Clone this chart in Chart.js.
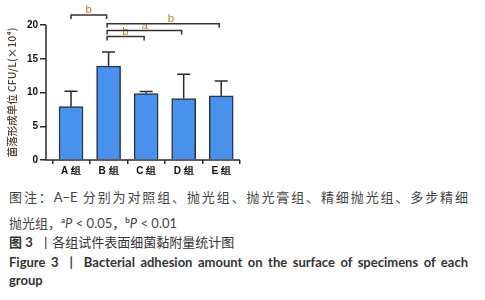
<!DOCTYPE html>
<html>
<head>
<meta charset="utf-8">
<script src="https://cdn.jsdelivr.net/npm/chart.js@4"></script>
<style>
  body { margin: 0; width: 485px; height: 300px; background: #fff; overflow: hidden; position: relative; }
  #wrap { position: absolute; left: 0; top: 0; width: 260px; height: 180px; }
  .cap { position: absolute; left: 9px; width: 459px; white-space: nowrap; font-family: 'Lato', 'Noto Sans CJK SC', sans-serif; font-size: 13px; line-height: 18px; color: #444; }
  .just { text-align: justify; text-align-last: justify; }
  .bold { font-weight: bold; color: #333; }
</style>
</head>
<body>
<div id="wrap"><canvas id="chart"></canvas></div>
<div class="cap just" style="top:188px">图注：A−E 分别为对照组、抛光组、抛光膏组、精细抛光组、多步精细</div>
<div class="cap" style="top:211px">抛光组，<sup style="font-size:8px;font-weight:bold">a</sup><i>P</i> &lt; 0.05，<sup style="font-size:8px;font-weight:bold">b</sup><i>P</i> &lt; 0.01</div>
<div class="cap" style="top:233px;color:#333"><b>图 3</b> &nbsp;丨各组试件表面细菌黏附量统计图</div>
<div class="cap just bold" style="top:253px">Figure 3 &nbsp;| &nbsp;Bacterial adhesion amount on the surface of specimens of each</div>
<div class="cap bold" style="top:271px">group</div>
<script>
// 数据
const groups = ['A 组', 'B 组', 'C 组', 'D 组', 'E 组'];
const means = [7.9, 13.9, 9.85, 9.1, 9.5];
const errTop = [10.2, 16.0, 10.15, 12.7, 11.7];
const yTicks = [0, 5, 10, 15, 20];

// 显著性标注
const bracketFrom = [0, 1, 1, 1];
const bracketTo = [1, 2, 3, 4];
const bracketLevel = [21.5, 18.3, 19.2, 20.2];
const bracketLabel = ['b', 'b', 'a', 'b'];
const bracketLabelAt = [0.47, 1.45, 1.96, 2.66];

const ink = '#2b2b2b';

// 坐标轴线、误差线和显著性括号
const extras = {
    id: 'extras',
    afterDatasetsDraw(chart) {
        const { ctx, scales: { x, y } } = chart;
        ctx.save();
        ctx.strokeStyle = ink;
        ctx.lineWidth = 1.5;
        // 误差线（仅上方）
        means.forEach((m, i) => {
            const cx = x.getPixelForValue(i);
            ctx.beginPath();
            ctx.moveTo(cx, y.getPixelForValue(m));
            ctx.lineTo(cx, y.getPixelForValue(errTop[i]));
            ctx.moveTo(cx - 6.5, y.getPixelForValue(errTop[i]));
            ctx.lineTo(cx + 6.5, y.getPixelForValue(errTop[i]));
            ctx.stroke();
        });
        // 坐标轴
        const x0 = x.left, yb = y.getPixelForValue(0);
        ctx.beginPath();
        ctx.moveTo(x0, y.getPixelForValue(20));
        ctx.lineTo(x0, yb);
        ctx.lineTo(x.right, yb);
        ctx.stroke();
        // 括号
        ctx.font = '11.5px Arial';
        ctx.textAlign = 'center';
        ctx.textBaseline = 'bottom';
        bracketFrom.forEach((f, i) => {
            const xa = x.getPixelForValue(f) - (f === 0 ? 0 : 1.5);
            const xb = x.getPixelForValue(bracketTo[i]) - 2;
            const yy = y.getPixelForValue(bracketLevel[i]);
            ctx.strokeStyle = '#333';
            ctx.beginPath();
            ctx.moveTo(xa, yy + 4);
            ctx.lineTo(xa, yy);
            ctx.lineTo(xb, yy);
            ctx.lineTo(xb, yy + 4);
            ctx.stroke();
            ctx.fillStyle = '#c47a30';
            ctx.fillText(bracketLabel[i], x.getPixelForValue(bracketLabelAt[i]), yy + 1);
        });
        ctx.restore();
    }
};

new Chart(document.getElementById('chart'), {
    type: 'bar',
    data: {
        datasets: [{
            data: means.map((v, i) => ({ x: i, y: v })),
            backgroundColor: '#4a91ee',
            borderColor: '#25344d',
            borderWidth: 1.5,
            barThickness: 24
        }]
    },
    options: {
        responsive: true,
        maintainAspectRatio: false,
        animation: false,
        // 不让刻度标签自动挤压绘图区
        layout: { autoPadding: false, padding: { top: 25, right: 20, bottom: 2, left: 0 } },
        plugins: { legend: { display: false }, tooltip: { enabled: false } },
        scales: {
            x: {
                type: 'linear',
                min: -0.667,
                max: 4.5,
                offset: false,
                afterBuildTicks: s => { s.ticks = groups.map((g, i) => ({ value: i })); },
                grid: { display: true, drawOnChartArea: false, color: ink, lineWidth: 1.5, tickLength: 4 },
                border: { display: false },
                ticks: {
                    callback: v => groups[v],
                    color: '#111',
                    padding: 1,
                    font: { family: 'Arial', weight: 'bold', size: 10 },
                    maxRotation: 0
                }
            },
            y: {
                min: 0,
                max: 20,
                afterBuildTicks: s => { s.ticks = yTicks.map(v => ({ value: v })); },
                afterFit: s => { s.width = 46; },
                grid: { display: true, drawOnChartArea: false, color: ink, lineWidth: 1.5, tickLength: 6 },
                border: { display: false },
                ticks: {
                    color: '#111',
                    padding: 2,
                    font: { family: 'Arial', weight: 'bold', size: 10 }
                },
                title: {
                    display: true,
                    text: '菌落形成单位 CFU/L(×10⁴)',
                    color: '#4e4238',
                    padding: { top: 6, bottom: 0 },
                    font: { family: "'Noto Sans CJK SC', Arial", size: 10.5, weight: '500' }
                }
            }
        }
    },
    plugins: [extras]
});
</script>
</body>
</html>
